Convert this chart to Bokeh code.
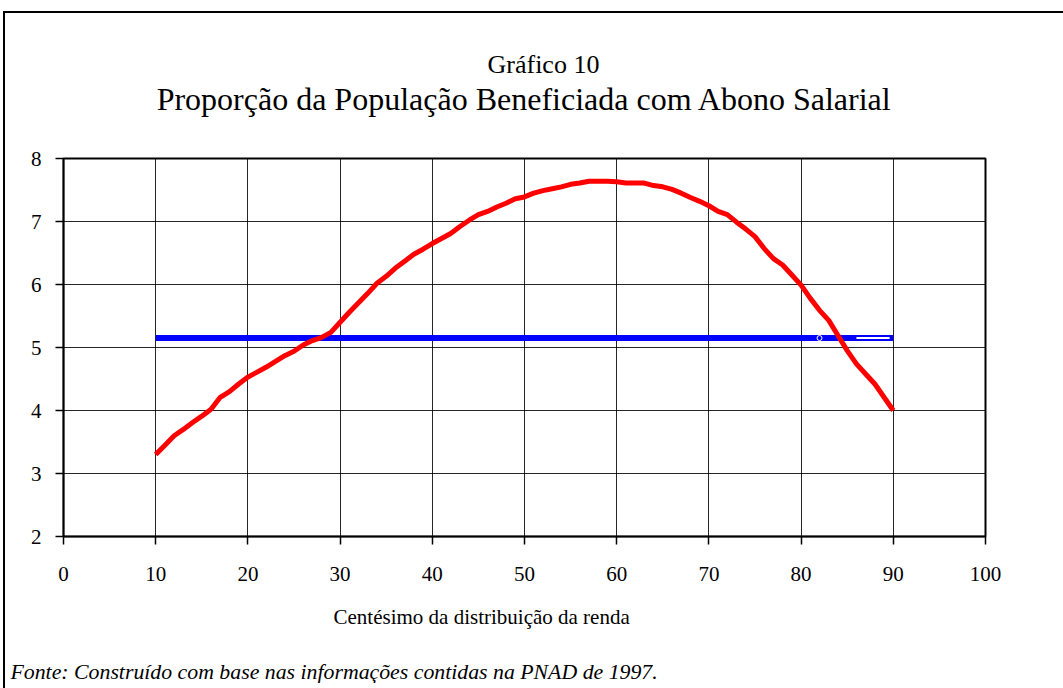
from bokeh.plotting import figure
from bokeh.models import Title, FixedTicker, InlineStyleSheet
from bokeh.embed import file_html
from bokeh.resources import INLINE

centesimo = list(range(10, 91))
proporcao = [3.30, 3.45, 3.60, 3.70, 3.81, 3.91, 4.02, 4.21, 4.30, 4.42,
             4.53, 4.61, 4.69, 4.78, 4.87, 4.94, 5.04, 5.11, 5.16, 5.24,
             5.40, 5.56, 5.71, 5.86, 6.02, 6.13, 6.26, 6.37, 6.48, 6.56,
             6.65, 6.73, 6.81, 6.92, 7.02, 7.11, 7.16, 7.23, 7.29, 7.36,
             7.39, 7.45, 7.49, 7.52, 7.55, 7.59, 7.61, 7.64, 7.64, 7.64,
             7.63, 7.61, 7.61, 7.61, 7.57, 7.55, 7.51, 7.45, 7.38, 7.32,
             7.25, 7.16, 7.11, 6.99, 6.88, 6.76, 6.57, 6.41, 6.31, 6.15,
             5.99, 5.78, 5.59, 5.43, 5.19, 4.95, 4.74, 4.58, 4.42, 4.21,
             4.00]
media_x = [10, 90]
media_y = [5.15, 5.15]
hollow_x = [86, 89.6]
hollow_y = [5.15, 5.15]
marker_x = [82]
marker_y = [5.15]

x_ticks = list(range(0, 101, 10))
y_ticks = list(range(2, 9))

FONT = "Times New Roman"

p = figure(frame_width=922, frame_height=378, x_range=(0, 100), y_range=(2, 8),
           output_backend="svg", toolbar_location=None,
           min_border_left=63, min_border_right=70,
           min_border_top=158, min_border_bottom=0)

p.background_fill_color = "white"
p.border_fill_color = "white"
p.outline_line_color = "black"
p.outline_line_width = 2

for ax in (p.xaxis, p.yaxis):
    ax.axis_line_color = "black"
    ax.axis_line_width = 1.5
    ax.major_tick_line_color = "black"
    ax.major_tick_line_width = 1.5
    ax.major_tick_in = 0
    ax.major_tick_out = 8
    ax.minor_tick_line_color = None
    ax.major_label_text_font = FONT
    ax.major_label_text_font_size = "21px"
    ax.major_label_text_color = "black"

p.xaxis.ticker = FixedTicker(ticks=x_ticks)
p.yaxis.ticker = FixedTicker(ticks=y_ticks)
p.xaxis.major_label_standoff = 22
p.yaxis.major_label_standoff = 14

p.xgrid.ticker = FixedTicker(ticks=x_ticks)
p.ygrid.ticker = FixedTicker(ticks=y_ticks)
for g in (p.xgrid, p.ygrid):
    g.grid_line_color = "black"
    g.grid_line_width = 1
    g.grid_line_alpha = 0.85

p.line(media_x, media_y, line_color="#0000ff", line_width=6)
p.line(hollow_x, hollow_y, line_color="white", line_width=2)
p.scatter(marker_x, marker_y, size=5, fill_color=None, line_color="white", line_width=1)
p.line(centesimo, proporcao, line_color="#ff0000", line_width=5, line_join="round")


def spacer(px):
    return Title(text=" ", text_font=FONT, text_font_size="1px", standoff=px)


def txt(text, size, style="normal", align="center", offset=0):
    return Title(text=text, text_font=FONT, text_font_size=size,
                 text_font_style=style, text_color="black",
                 align=align, offset=offset, standoff=0)


p.title = None
# above the frame, nearest first
p.add_layout(spacer(39), "above")
p.add_layout(txt("Proporção da População Beneficiada com Abono Salarial", "32px"), "above")
p.add_layout(txt("Gráfico 10", "26px", align="left", offset=424), "above")

# below the frame, after the x axis
p.add_layout(spacer(16), "below")
p.add_layout(txt("Centésimo da distribuição da renda", "21px", align="left", offset=270), "below")
p.add_layout(spacer(26), "below")
p.add_layout(txt("Fonte: Construído com base nas informações contidas na PNAD de 1997.",
                 "21.8px", style="italic", align="left", offset=-53), "below")

p.stylesheets = [InlineStyleSheet(css="""
:host::before {
  content: "";
  position: absolute;
  left: 3px; top: 11px;
  width: 1200px; height: 800px;
  border-top: 2.5px solid black;
  border-left: 2.5px solid black;
  border-right: 0 none;
  border-bottom: 0 none;
  pointer-events: none;
  z-index: 100;
}
""")]

open("out.html", "w").write(file_html(p, INLINE))
